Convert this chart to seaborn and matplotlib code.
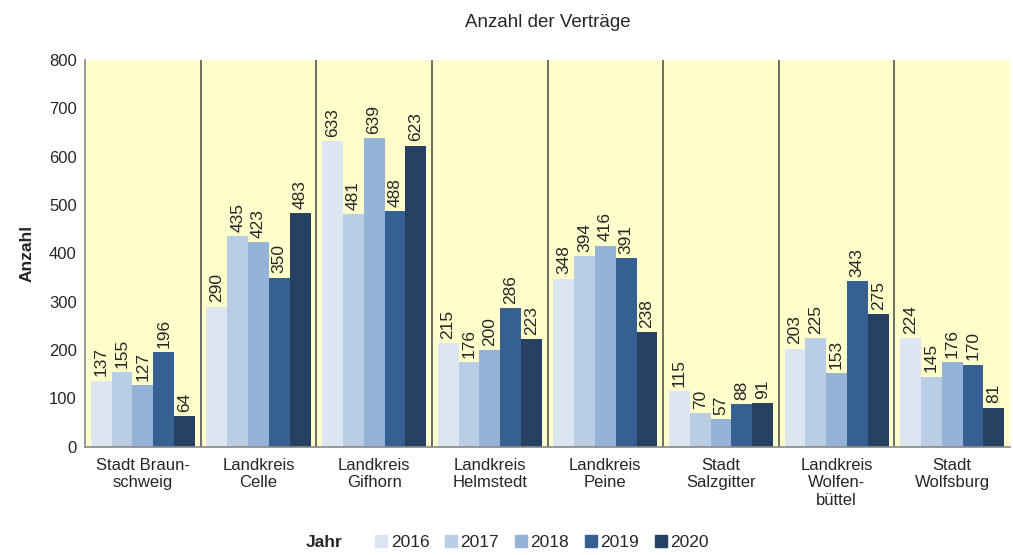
import pandas as pd
import seaborn as sns
import matplotlib.pyplot as plt

# Regions and yearly counts
regions = ['Stadt Braun-\nschweig', 'Landkreis\nCelle', 'Landkreis\nGifhorn', 'Landkreis\nHelmstedt',
           'Landkreis\nPeine', 'Stadt\nSalzgitter', 'Landkreis\nWolfen-\nbüttel', 'Stadt\nWolfsburg']
years = ['2016', '2017', '2018', '2019', '2020']
v2016 = [137, 290, 633, 215, 348, 115, 203, 224]
v2017 = [155, 435, 481, 176, 394, 70, 225, 145]
v2018 = [127, 423, 639, 200, 416, 57, 153, 176]
v2019 = [196, 350, 488, 286, 391, 88, 343, 170]
v2020 = [64, 483, 623, 223, 238, 91, 275, 81]
colors = ['#DCE6F2', '#B9CDE5', '#95B3D7', '#376092', '#254061']

rows = []
for year, vals in zip(years, [v2016, v2017, v2018, v2019, v2020]):
    for reg, v in zip(regions, vals):
        rows.append({'Region': reg, 'Jahr': year, 'Anzahl': v})
df = pd.DataFrame(rows)

sns.set_style('white')
plt.rcParams['font.family'] = ['Liberation Sans', 'DejaVu Sans']

fig = plt.figure(figsize=(10.13, 5.55), dpi=100)
ax = fig.add_axes([0.084, 0.195, 0.913, 0.697])
ax.set_facecolor('#FFFFCC')

sns.barplot(data=df, x='Region', y='Anzahl', hue='Jahr', palette=colors,
            width=0.9, gap=0, saturation=1, ax=ax, legend=False,
            edgecolor='none', linewidth=0)

for cont in ax.containers:
    ax.bar_label(cont, labels=[f'{int(b.get_height())}' for b in cont],
                 rotation=90, padding=3, fontsize=12.5)

ax.set_xlim(-0.5, len(regions) - 0.5)
ax.set_ylim(0, 800)
ax.set_yticks(range(0, 801, 100))
ax.tick_params(axis='y', labelsize=12, length=0, pad=6)
ax.tick_params(axis='x', labelsize=12, length=0, pad=8)
ax.set_xlabel('')
ax.set_ylabel('Anzahl', fontsize=12.5, fontweight='bold', labelpad=10)

for i in range(len(regions) - 1):
    ax.axvline(i + 0.5, color='#555555', lw=1.2, zorder=0.5)

for s in ['top', 'right']:
    ax.spines[s].set_visible(False)
for s in ['left', 'bottom']:
    ax.spines[s].set_color('#888888')
    ax.spines[s].set_linewidth(1.2)

ax.set_title('Anzahl der Verträge', fontsize=13.5, pad=24)

handles = [plt.Rectangle((0, 0), 1, 1, color=c) for c in colors]
fig.legend(handles, years, loc='center', bbox_to_anchor=(0.535, 0.022), ncol=5,
           frameon=False, fontsize=12.5, handlelength=0.7, handleheight=0.7,
           handletextpad=0.2, columnspacing=0.9)
fig.text(0.302, 0.022, 'Jahr', fontsize=12.5, fontweight='bold', va='center', ha='left')

fig.savefig('out.png', dpi=100)
